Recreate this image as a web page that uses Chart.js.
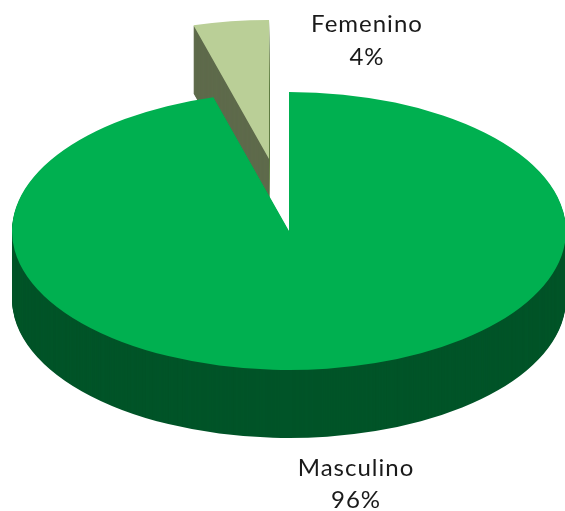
<!DOCTYPE html>
<html>
<head>
<meta charset="utf-8">
<style>
  html, body { margin: 0; padding: 0; background: #ffffff; }
  canvas { display: block; }
</style>
<script src="https://cdn.jsdelivr.net/npm/chart.js@4"></script>
</head>
<body>
<canvas id="myChart" width="565" height="511"></canvas>
<script>
// Values
const categories = ['Masculino', 'Femenino'];
const shares = [95.6, 4.4];
const shareLabels = ['96%', '4%'];

const faceColors = ['#00b050', '#bacf97'];
const sideColors = ['#005428', '#5e6a4b'];

// Where the flattened pie sits on the page
const pieX = 289;
const pieY = 231;
const pieRx = 277;
const pieRy = 139;
const pieDepth = 68;
const explode = 0.523; // share of the radius the small slice is pulled out

const labelSpots = [
    { x: 356, y: 468, y2: 500 },
    { x: 367, y: 24, y2: 57 }
];

// Draws the arcs flattened, with the side wall made of stacked copies
const tiltedPie = {
    id: 'tiltedPie',
    beforeDatasetDraw(chart, args) {
        const ctx = chart.ctx;
        const arcs = args.meta.data;
        const R = arcs[0].outerRadius;

        function drawArc(arc, color, drop, pull) {
            const mid = (arc.startAngle + arc.endAngle) / 2;
            const saved = arc.options;
            arc.options = Object.assign({}, saved, { backgroundColor: color, borderColor: color, borderWidth: 0 });
            ctx.save();
            ctx.translate(pieX, pieY + drop);
            ctx.scale(pieRx / R, pieRy / R);
            ctx.translate(Math.cos(mid) * pull * R, Math.sin(mid) * pull * R);
            ctx.translate(-arc.x, -arc.y);
            arc.draw(ctx);
            ctx.restore();
            arc.options = saved;
        }

        // small slice goes behind the big one
        [1, 0].forEach(i => {
            const pull = i === 1 ? explode : 0;
            for (let d = pieDepth; d > 0; d--) {
                drawArc(arcs[i], sideColors[i], d, pull);
            }
            drawArc(arcs[i], faceColors[i], 0, pull);
        });
        return false;
    },
    afterDraw(chart) {
        const ctx = chart.ctx;
        ctx.save();
        ctx.fillStyle = '#1a1a1a';
        ctx.font = '24px Lato, "Open Sans", sans-serif';
        ctx.letterSpacing = '1px';
        ctx.textAlign = 'center';
        ctx.textBaseline = 'middle';
        categories.forEach((name, i) => {
            ctx.fillText(name, labelSpots[i].x, labelSpots[i].y);
            ctx.fillText(shareLabels[i], labelSpots[i].x, labelSpots[i].y2);
        });
        ctx.restore();
    }
};

new Chart(document.getElementById('myChart').getContext('2d'), {
    type: 'pie',
    data: {
        labels: categories,
        datasets: [{
            data: shares,
            backgroundColor: faceColors,
            borderWidth: 0
        }]
    },
    options: {
        responsive: false,
        animation: false,
        layout: { padding: 0 },
        plugins: {
            legend: { display: false },
            tooltip: { enabled: false }
        }
    },
    plugins: [tiltedPie]
});
</script>
</body>
</html>
